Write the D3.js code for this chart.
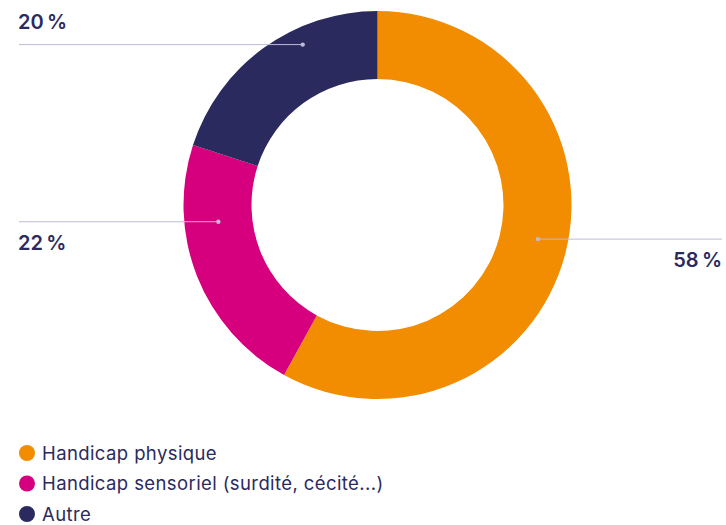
<!DOCTYPE html>
<html>
<head>
<meta charset="utf-8">
<script src="https://cdn.jsdelivr.net/npm/d3@7"></script>
<style>
  body { margin: 0; background: #fff; }
  svg { display: block; font-family: Inter, "Noto Sans", sans-serif; }
</style>
</head>
<body>
<svg id="chart" width="726" height="525"></svg>
<script>
// data
const categories = ['Handicap physique', 'Handicap sensoriel (surdité, cécité...)', 'Autre'];
const values = [58, 22, 20];
const colors = ['#f28c00', '#d6007e', '#2b2a5e'];
// label leader lines: angle of the anchor on the ring (deg), radius of anchor, side
const labelAngles = [102, 264, 335];
const labelRadii = [164, 160, 177];
const labelSide = ['right', 'left', 'left'];

const svg = d3.select('#chart');
const cx = 377.5, cy = 205;
const outerR = 194, innerR = 126;

const pie = d3.pie().sort(null).value(d => d);
const arc = d3.arc().innerRadius(innerR).outerRadius(outerR);
const arcs = pie(values);

const g = svg.append('g').attr('transform', `translate(${cx},${cy})`);

g.selectAll('path.slice')
  .data(arcs)
  .join('path')
  .attr('class', 'slice')
  .attr('d', arc)
  .attr('fill', (d, i) => colors[i]);

// labels
const fmt = v => v + '\u202f%';
const labels = svg.append('g');
arcs.forEach((d, i) => {
  const a = labelAngles[i] * Math.PI / 180;
  const px = cx + labelRadii[i] * Math.sin(a);
  const py = cy - labelRadii[i] * Math.cos(a);
  const left = labelSide[i] === 'left';
  const x2 = left ? 19 : 722;
  labels.append('line')
    .attr('x1', px).attr('y1', py)
    .attr('x2', x2).attr('y2', py)
    .attr('stroke', '#bdbbd9').attr('stroke-width', 1);
  labels.append('circle')
    .attr('cx', px).attr('cy', py).attr('r', 2.2)
    .attr('fill', '#bdbbd9');
  // text above the line for the top label, below otherwise
  const above = py < 100;
  labels.append('text')
    .attr('x', left ? 18 : 722)
    .attr('y', above ? py - 16 : py + 28)
    .attr('text-anchor', left ? 'start' : 'end')
    .attr('fill', '#2b2a5e')
    .attr('font-size', 20)
    .attr('font-weight', 600)
    .text(fmt(values[i]));
});

// legend
const legend = svg.append('g').attr('transform', 'translate(27,453)');
const item = legend.selectAll('g')
  .data(categories)
  .join('g')
  .attr('transform', (d, i) => `translate(0,${i * 30.5})`);
item.append('circle').attr('r', 8).attr('fill', (d, i) => colors[i]);
item.append('text')
  .attr('x', 15).attr('y', 6.5)
  .attr('fill', '#2b2a5e')
  .attr('font-size', 18.5)
  .attr('letter-spacing', 0.4)
  .text(d => d);
</script>
</body>
</html>
